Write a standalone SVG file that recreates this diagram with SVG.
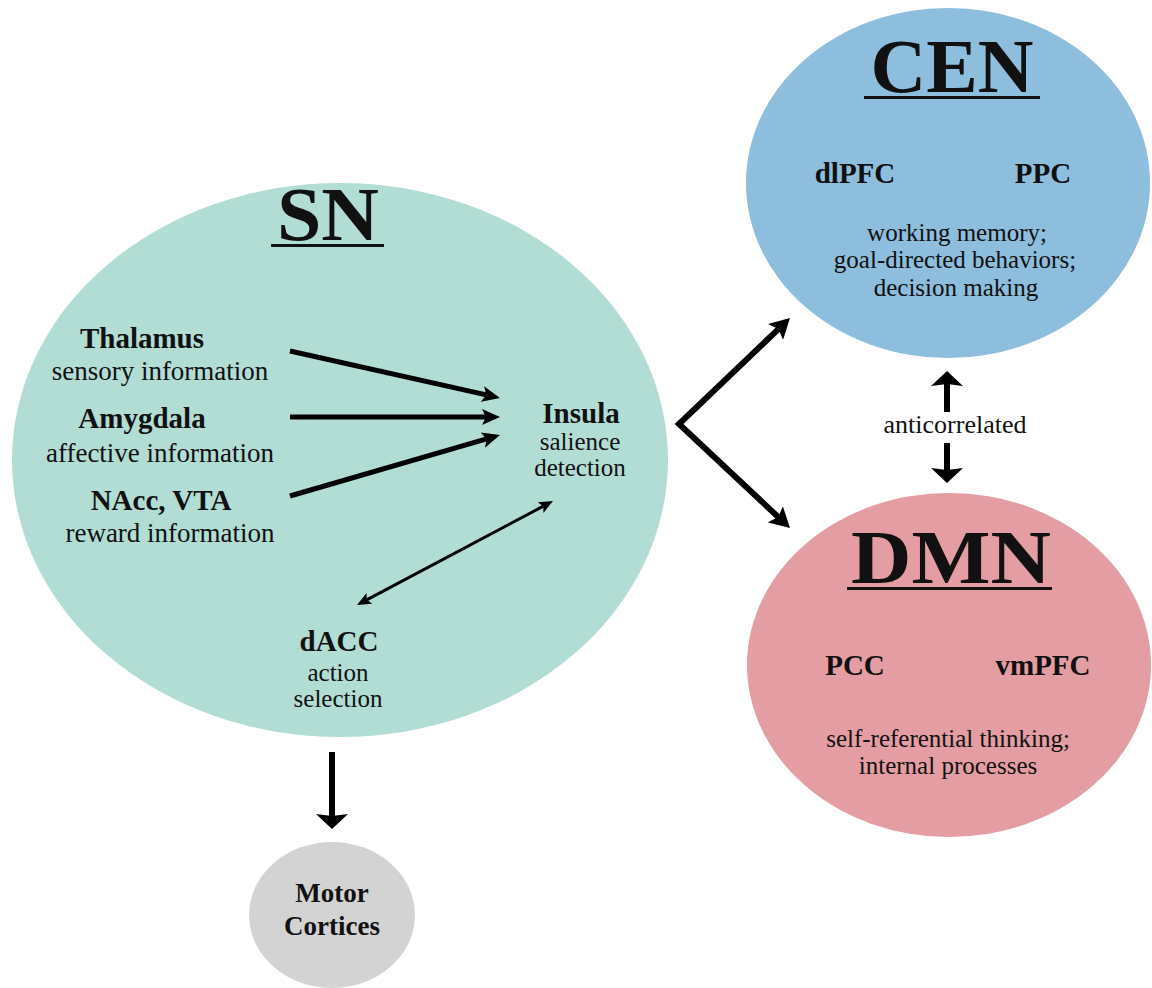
<svg xmlns="http://www.w3.org/2000/svg" width="1152" height="988" viewBox="0 0 1152 988">
<style>
text{font-family:"Liberation Serif","Times New Roman",serif;fill:#111;text-anchor:middle}
.title{font-size:76px;font-weight:bold}
.lab{font-size:29px;font-weight:bold}
.desc{font-size:27px}
.st{font-size:25px}
.ul{stroke:#111;stroke-width:3}
.thick{stroke:#000;stroke-width:5;fill:none}
.thin{stroke:#000;stroke-width:3;fill:none}
</style>
<defs>
<marker id="ah" markerUnits="userSpaceOnUse" viewBox="0 0 18 16" refX="4" refY="8" markerWidth="18" markerHeight="16" orient="auto-start-reverse"><path d="M0,0 L18,8 L0,16 L4,8 z" fill="#000"/></marker>
<marker id="ahs" markerUnits="userSpaceOnUse" viewBox="0 0 14 12" refX="3" refY="6" markerWidth="14" markerHeight="12" orient="auto-start-reverse"><path d="M0,0 L14,6 L0,12 L3,6 z" fill="#000"/></marker>
<marker id="ahb" markerUnits="userSpaceOnUse" viewBox="0 0 20 22" refX="4" refY="11" markerWidth="20" markerHeight="22" orient="auto-start-reverse"><path d="M0,0 L20,11 L0,22 L4,11 z" fill="#000"/></marker>
<marker id="ahw" markerUnits="userSpaceOnUse" viewBox="0 0 15 32" refX="2" refY="16" markerWidth="15" markerHeight="32" orient="auto-start-reverse"><path d="M0,0 L15,16 L0,32 L2,16 z" fill="#000"/></marker>
</defs>
<rect width="1152" height="988" fill="#fff"/>

<g id="SN">
<ellipse cx="340" cy="460" rx="328" ry="277" fill="#b2ddd5"/>
<text class="title" x="328" y="240" textLength="102" lengthAdjust="spacingAndGlyphs">SN</text>
<line class="ul" x1="271" y1="245.5" x2="384" y2="245.5"/>
</g>
<g id="Thalamus"><text class="lab" x="142" y="348">Thalamus</text><text class="desc" x="160" y="380">sensory information</text></g>
<g id="Amygdala"><text class="lab" x="142" y="428">Amygdala</text><text class="desc" x="160" y="462">affective information</text></g>
<g id="NAcc"><text class="lab" x="161" y="510">NAcc, VTA</text><text class="desc" x="170" y="542">reward information</text></g>
<g id="Insula"><text class="lab" x="581" y="423">Insula</text><text class="desc st" x="580" y="450">salience</text><text class="desc st" x="580" y="476">detection</text></g>
<g id="dACC"><text class="lab" x="339" y="651">dACC</text><text class="desc st" x="338" y="681">action</text><text class="desc st" x="338" y="707">selection</text></g>

<g id="CEN">
<ellipse cx="948" cy="183" rx="202" ry="175" fill="#8dbedd"/>
<text class="title" x="952" y="92" textLength="163" lengthAdjust="spacingAndGlyphs">CEN</text>
<line class="ul" x1="864" y1="97.5" x2="1040" y2="97.5"/>
<text class="lab" x="855" y="183">dlPFC</text>
<text class="lab" x="1043" y="183">PPC</text>
<text class="desc st" x="957" y="241">working memory;</text>
<text class="desc st" x="955" y="268">goal-directed behaviors;</text>
<text class="desc st" x="956" y="296">decision making</text>
</g>

<g id="DMN">
<ellipse cx="949" cy="665" rx="202" ry="172" fill="#e49da2"/>
<text class="title" x="951" y="583" textLength="200" lengthAdjust="spacingAndGlyphs">DMN</text>
<line class="ul" x1="847" y1="588.5" x2="1052" y2="588.5"/>
<text class="lab" x="855" y="675">PCC</text>
<text class="lab" x="1043" y="675">vmPFC</text>
<text class="desc st" x="948" y="747">self-referential thinking;</text>
<text class="desc st" x="948" y="774">internal processes</text>
</g>

<g id="Motor">
<ellipse cx="332" cy="915" rx="83" ry="73" fill="#d3d3d3"/>
<text class="lab" style="font-size:27px" x="332" y="902">Motor</text>
<text class="lab" style="font-size:27px" x="332" y="935">Cortices</text>
</g>

<g id="anticorrelated-label"><text class="desc" style="font-size:26px" x="955" y="433">anticorrelated</text></g>

<g id="connectors">
<line class="thick" x1="290" y1="351" x2="486.3" y2="394.9" marker-end="url(#ah)"/>
<line class="thick" x1="290" y1="417" x2="486" y2="417" marker-end="url(#ah)"/>
<line class="thick" x1="290" y1="496" x2="486.6" y2="438.9" marker-end="url(#ah)"/>
<line class="thin" x1="366.7" y1="599.8" x2="543.3" y2="506.2" marker-start="url(#ahs)" marker-end="url(#ahs)"/>
<path d="M778.4,329.1 L679,424 L778.3,517.1" stroke="#000" stroke-width="6" fill="none" stroke-linejoin="miter" marker-start="url(#ahb)" marker-end="url(#ahb)"/>
<line stroke="#000" stroke-width="6" x1="947" y1="412" x2="947" y2="384" marker-end="url(#ahw)"/>
<line stroke="#000" stroke-width="6" x1="947" y1="443" x2="947" y2="470" marker-end="url(#ahw)"/>
<line stroke="#000" stroke-width="6" x1="332" y1="752" x2="332" y2="816" marker-end="url(#ahw)"/>
</g>
</svg>
